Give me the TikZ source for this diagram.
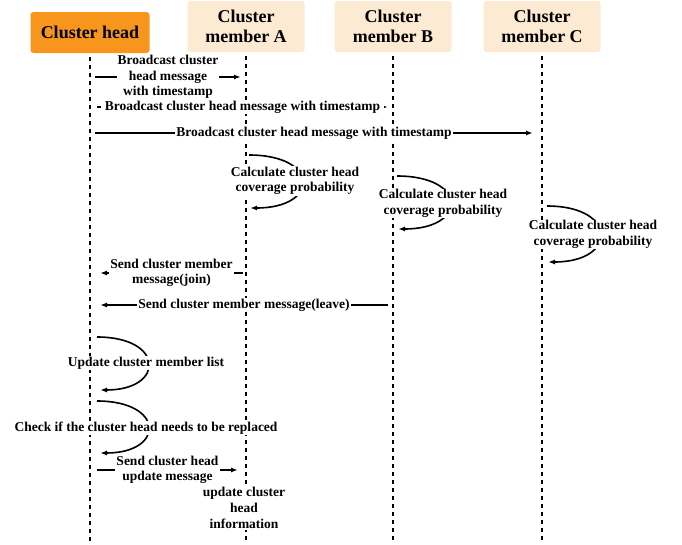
\documentclass[tikz,border=0pt]{standalone}
\usepackage{fontspec}
\setmainfont{Liberation Serif}
\usetikzlibrary{arrows.meta}
\begin{document}
\begin{tikzpicture}[x=1pt,y=-1pt,
  hd/.style={rounded corners=3pt,inner sep=0pt,align=center,font=\bfseries\fontsize{18}{20.5}\selectfont},
  life/.style={line width=2pt,dash pattern=on 4pt off 4pt},
  msg/.style={line width=1.6pt,-{Latex[length=7pt,width=5pt]}},
  lbl/.style={fill=white,inner sep=1pt,align=center,font=\bfseries\fontsize{13.5}{15.5}\selectfont}]
\definecolor{cch}{rgb}{0.969,0.584,0.114}
\definecolor{cm}{rgb}{0.992,0.918,0.824}
%
\useasboundingbox (0,0) rectangle (682,544);
%
\node[hd,fill=cch,minimum width=119pt,minimum height=41pt] (ch) at (90,32.5) {Cluster head};
\node[hd,fill=cm,minimum width=117pt,minimum height=51pt] (ma) at (246,26.5) {Cluster\\member A};
\node[hd,fill=cm,minimum width=117pt,minimum height=51pt] (mb) at (393,26.5) {Cluster\\member B};
\node[hd,fill=cm,minimum width=117pt,minimum height=51pt] (mc) at (542,26.5) {Cluster\\member C};
%
\coordinate (bot) at (0,544);
\draw[life] ([yshift=-4pt]ch.south) -- (ch |- bot);
\draw[life] ([yshift=-4pt]ma.south) -- (ma |- bot);
\draw[life] ([yshift=-4pt]mb.south) -- (mb |- bot);
\draw[life] ([yshift=-4pt]mc.south) -- (mc |- bot);
%
\coordinate (m1a) at (95,77);
\coordinate (m1b) at (241,77);
\coordinate (m2a) at (97,107);
\coordinate (m2b) at (388,107);
\coordinate (m3a) at (95,133);
\coordinate (m3b) at (533,133);
\coordinate (saa) at (249,155);
\coordinate (sab) at (250,208);
\coordinate (sba) at (397,176);
\coordinate (sbb) at (398,229);
\coordinate (sca) at (547,206);
\coordinate (scb) at (548,262);
\coordinate (j1a) at (243,273);
\coordinate (j1b) at (100,273);
\coordinate (l1a) at (388,305);
\coordinate (l1b) at (100,305);
\coordinate (u1a) at (97,337);
\coordinate (u1b) at (100,390);
\coordinate (k1a) at (97,401);
\coordinate (k1b) at (100,453);
\coordinate (h1a) at (97,470);
\coordinate (h1b) at (238,470);
%
\draw[msg] (m1a) -- node[lbl] (t1) {Broadcast cluster\\head message\\with timestamp} (m1b);
\draw[msg] (m2a) -- node[lbl,inner xsep=4pt] (t2) {Broadcast cluster head message with timestamp} (m2b);
\draw[msg] (m3a) -- node[lbl] (t3) {Broadcast cluster head message with timestamp} (m3b);
%
\draw[msg] (saa) .. controls +(71,0) and +(70,0) .. (sab);
\draw[msg] (sba) .. controls +(71,0) and +(70,0) .. (sbb);
\draw[msg] (sca) .. controls +(71,0) and +(70,0) .. (scb);
\node[lbl] (ca) at (295,181) {Calculate cluster head\\coverage probability};
\node[lbl] (cb) at (443,203.5) {Calculate cluster head\\coverage probability};
\node[lbl] (cc) at (593,234.5) {Calculate cluster head\\coverage probability};
%
\draw[msg] (j1a) -- node[lbl] (tj) {Send cluster member\\message(join)} (j1b);
\draw[msg] (l1a) -- node[lbl] (tl) {Send cluster member message(leave)} (l1b);
%
\draw[msg] (u1a) .. controls +(68,0) and +(65,0) .. (u1b);
\draw[msg] (k1a) .. controls +(68,0) and +(65,0) .. (k1b);
\node[lbl] (tu) at (146,363) {Update cluster member list};
\node[lbl] (tk) at (146,428) {Check if the cluster head needs to be replaced};
%
\draw[msg] (h1a) -- node[lbl] (th) {Send cluster head\\update message} (h1b);
\node[lbl,font=\bfseries\fontsize{13.5}{16}\selectfont] (ti) at (244,508) {update cluster\\head\\information};
%
\end{tikzpicture}
\end{document}
